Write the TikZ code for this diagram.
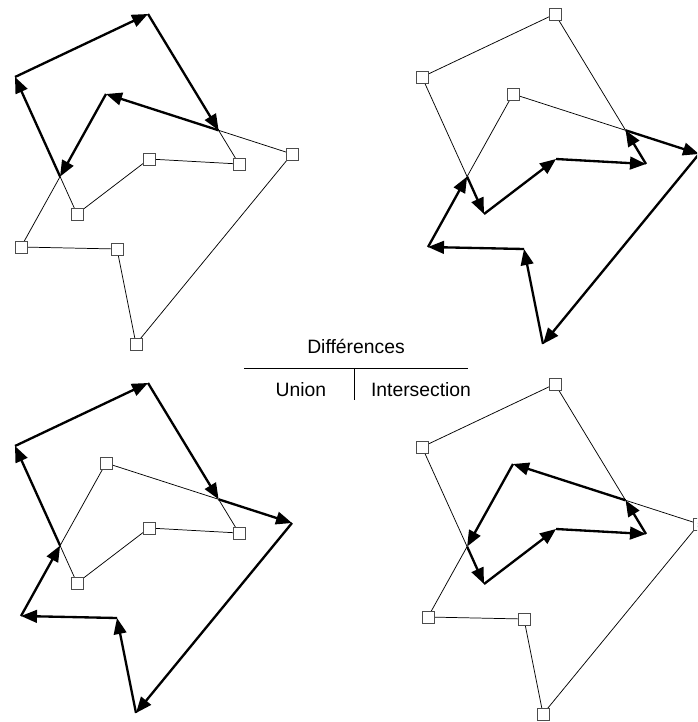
\documentclass[tikz,border=0pt]{standalone}
\usepackage{fontspec}
\setmainfont{Liberation Sans}
\usetikzlibrary{arrows.meta}
\tikzset{
  vbox/.style={shape=rectangle, draw=black!70, fill=white, minimum size=9pt, inner sep=0pt, line width=0.6pt},
  thinedge/.style={line width=0.55pt, line join=round},
  thickedge/.style={line width=1.75pt, -{Triangle[length=12pt,width=9.5pt]}},
  lbl/.style={font=\fontsize{14.5}{17}\selectfont, inner sep=0pt, anchor=base},
  rule/.style={line width=0.6pt}
}
\newcommand\defpolys{%
  \coordinate (A1) at (15,77);
  \coordinate (A2) at (148,14);
  \coordinate (A3) at (239,164);
  \coordinate (A4) at (149,159);
  \coordinate (A5) at (77,214);
  \coordinate (B1) at (106,94);
  \coordinate (B2) at (21,247);
  \coordinate (B3) at (117,249);
  \coordinate (B4) at (136,344);
  \coordinate (B5) at (292,154);
  \coordinate (X1) at (218.6,130.3);
  \coordinate (X2) at (60.1,176.6);
}
\newcommand\thk[2]{\draw[thickedge] (#1) -- (#2);}
\begin{document}
\begin{tikzpicture}[x=0.75pt,y=-0.75pt]
\useasboundingbox (0,0) rectangle (697,722);
\clip (0,0) rectangle (697,722);

% ---------- top left : A - B ----------
\begin{scope}[shift={(0,0)}]
  \defpolys
  \draw[thinedge] (X1) -- (A3) -- (A4) -- (A5) -- (X2);
  \draw[thinedge] (X1) -- (B5) -- (B4) -- (B3) -- (B2) -- (X2);
  \thk{A1}{A2}\thk{A2}{X1}\thk{X1}{B1}\thk{B1}{X2}\thk{X2}{A1}
  \foreach \p in {A3,A4,A5,B5,B4,B3,B2} \node[vbox] (tl\p) at (\p) {};
\end{scope}

% ---------- top right : B - A ----------
\begin{scope}[shift={(407,0)}]
  \defpolys
  \draw[thinedge] (X2) -- (A1) -- (A2) -- (X1);
  \draw[thinedge] (X1) -- (B1) -- (X2);
  \thk{X1}{B5}\thk{B5}{B4}\thk{B4}{B3}\thk{B3}{B2}\thk{B2}{X2}
  \thk{X2}{A5}\thk{A5}{A4}\thk{A4}{A3}\thk{A3}{X1}
  \foreach \p in {A1,A2,B1} \node[vbox] (tr\p) at (\p) {};
\end{scope}

% ---------- bottom left : union ----------
\begin{scope}[shift={(0,369)}]
  \defpolys
  \draw[thinedge] (X1) -- (A3) -- (A4) -- (A5) -- (X2);
  \draw[thinedge] (X1) -- (B1) -- (X2);
  \thk{A1}{A2}\thk{A2}{X1}\thk{X1}{B5}\thk{B5}{B4}\thk{B4}{B3}\thk{B3}{B2}\thk{B2}{X2}\thk{X2}{A1}
  \foreach \p in {A3,A4,A5,B1} \node[vbox] (bl\p) at (\p) {};
\end{scope}

% ---------- bottom right : intersection ----------
\begin{scope}[shift={(407,370)}]
  \defpolys
  \draw[thinedge] (X2) -- (A1) -- (A2) -- (X1);
  \draw[thinedge] (X1) -- (B5) -- (B4) -- (B3) -- (B2) -- (X2);
  \thk{X1}{B1}\thk{B1}{X2}\thk{X2}{A5}\thk{A5}{A4}\thk{A4}{A3}\thk{A3}{X1}
  \foreach \p in {A1,A2,B5,B4,B3,B2} \node[vbox] (br\p) at (\p) {};
\end{scope}

% ---------- legend ----------
\node[lbl] (diff) at (356,353.3) {Différences};
\node[lbl] (uni) at (301,396) {Union};
\node[lbl] (inter) at (421,396) {Intersection};
\coordinate (hl) at (244,368);
\coordinate (hr) at (468,368);
\coordinate (vt) at (354,368);
\coordinate (vb) at (354,400);
\draw[rule] (hl) -- (hr);
\draw[rule] (vt) -- (vb);
\end{tikzpicture}
\end{document}
